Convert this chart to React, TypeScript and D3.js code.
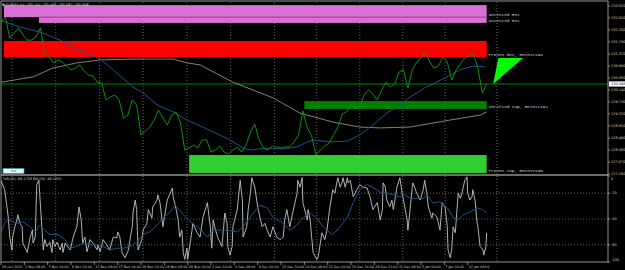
import React from "react";
import * as d3 from "d3";

const W = 625;
const H = 270;

// price axis tick labels (top to bottom)
const priceTicks = ["133.020","132.610","132.200","131.790","131.370","130.960","130.550","130.140","129.730","129.320","128.910","128.490","128.080","127.670","127.260"];
const currentPrice = 130.346;

// time axis labels (one every 16 H4 bars)
const timeLabels = ["28 Oct 2021","2 Nov 08:00","5 Nov 00:00","9 Nov 16:00","12 Nov 08:00","17 Nov 00:00","19 Nov 16:00","24 Nov 08:00","29 Nov 00:00","1 Dec 16:00","6 Dec 08:00","9 Dec 00:00","13 Dec 16:00","16 Dec 08:00","21 Dec 00:00","23 Dec 16:00","28 Dec 12:00","31 Dec 08:00","5 Jan 00:00","7 Jan 16:00","12 Jan 08:00"];
const barsPerLabel = 16;
const gridBars = [7.5, 37.5, 67.5, 97.5, 127.5, 157.5, 187.5, 216.5, 246, 275.5, 304.5, 340];

// closes sampled every 3 bars
const closeStep = 3;
const closes = [132.47,132.64,131.92,132.09,132.27,132.03,131.85,131.85,131.96,132.27,
131.37,131.27,131.07,131.17,131.10,130.96,130.83,130.89,131.00,130.79,
130.65,130.62,130.41,130.38,129.80,129.90,129.97,129.80,129.18,129.28,
129.80,129.63,128.60,128.73,128.87,129.11,129.45,129.18,128.94,129.28,
129.39,129.04,128.08,128.15,128.25,128.15,128.43,128.43,128.01,128.08,
128.22,128.01,127.95,128.08,128.19,128.01,128.25,128.70,128.97,128.43,
128.15,128.08,128.22,128.19,128.15,128.19,128.19,128.36,128.60,129.42,
128.84,128.56,127.91,128.08,128.22,128.32,128.60,128.87,129.32,129.39,
129.63,129.52,129.59,129.97,130.14,130.00,129.80,130.14,130.41,130.24,
130.35,130.76,130.83,130.21,130.83,131.10,131.24,131.44,131.10,130.89,
130.96,131.27,131.10,130.48,130.83,131.03,131.24,131.31,131.37,130.89,
130.04,130.35];

const blueMa: [number, number][] = [[0.5,132.51],[13,132.30],[26.5,132.13],[40.5,131.85],[54,131.51],[68,131.20],[77,130.83],[90.5,130.24],[97.5,130.04],[107,129.63],[118,129.39],[127.5,129.11],[136.5,128.91],[145.5,128.70],[157,128.43],[166,128.15],[171,128.08],[182.5,128.15],[193.5,128.12],[203,128.19],[210,128.36],[214,128.43],[225.5,128.36],[237.5,128.39],[246,128.60],[255,128.94],[264.5,129.35],[273.5,129.63],[280.5,129.90],[290.5,130.21],[303,130.52],[314.5,130.83],[323.5,130.96],[332,130.93]];

const greyMa: [number, number][] = [[0.5,130.41],[22,130.59],[35.5,130.89],[52,131.07],[68,131.17],[90.5,131.20],[118,131.20],[127.5,131.07],[136.5,131.00],[159,130.41],[186.5,129.87],[205,129.35],[227.5,129.04],[246,128.87],[260,128.84],[280.5,128.87],[308,129.11],[328.5,129.28],[333,129.39]];

// supply / demand zones
const zoneNames = ["Untested Res","Untested Res","Proven Res, Retests=4","Verified Sup, Retests=1","Proven Sup, Retests=0"];
const zoneHigh = [133.05, 132.64, 131.82, 129.76, 127.91];
const zoneLow = [132.64, 132.44, 131.27, 129.49, 127.29];
const zoneStart = [2, 26, 2, 208, 129];
const zoneEnd = 333;
const zoneColors = ["#da70d6","#da70d6","#ff0000","#008000","#32cd32"];

const arrowPoints: [number, number][] = [[337.5,130.35],[341,131.24],[358,131.24]];

// Williams %R indicator
const wprLevels = [0, -20, -50, -80, -100];
const wpr: [number, number][] = [[0,-5],[2.5,-16],[5,-48],[6,-71],[7.5,-86],[8,-71],[9.5,-59],[11,-51],[11.5,-45],[13,-55],[14.5,-59],[15,-78],[18,-89],[20,-71],[21.5,-63],[22,-78],[23.5,-71],[24.5,-10],[26,-5],[26.5,-20],[28,-59],[29,-86],[30,-74],[31.5,-82],[33.5,-77],[35,-89],[35.5,-74],[37,-82],[38.5,-77],[40.5,-86],[42,-78],[42.5,-89],[44,-78],[45.5,-82],[47.5,-86],[49.5,-71],[52,-59],[53.5,-36],[55,-51],[56,-78],[57.5,-71],[59,-88],[61,-74],[63,-78],[66,-86],[66.5,-80],[68,-88],[70,-74],[72.5,-80],[74.5,-86],[77,-71],[79.5,-72],[80,-65],[81.5,-71],[83,-89],[85,-95],[87,-88],[90,-59],[90.5,-43],[92,-28],[93,-39],[94,-86],[96.5,-74],[97.5,-63],[100,-55],[101,-39],[103.5,-49],[104,-36],[107,-28],[107.5,-22],[109,-31],[111,-59],[114,-28],[116,-20],[117.5,-14],[118,-24],[119.5,-34],[121.5,-51],[122.5,-71],[124,-63],[125,-89],[126,-97],[127.5,-84],[128,-97],[131,-63],[131.5,-55],[134.5,-66],[136.5,-71],[138.5,-48],[141.5,-31],[143.5,-59],[144.5,-84],[145.5,-51],[146.5,-59],[148.5,-71],[151.5,-82],[153.5,-43],[155,-55],[155.5,-82],[157,-92],[158.5,-82],[159,-59],[162,-39],[164,-5],[165.5,-28],[166,-71],[168.5,-59],[169.5,-39],[171,-20],[172,-2],[174,-13],[176,-36],[179,-59],[181,-55],[182.5,-63],[184.5,-71],[186.5,-59],[189,-71],[191.5,-74],[193.5,-71],[194.5,-51],[196,-39],[198,-59],[200,-43],[203,-20],[203.5,-5],[205,-13],[206.5,-2],[207,-31],[210,-51],[210.5,-39],[212,-51],[213,-71],[214,-89],[216.5,-97],[217.5,-94],[219,-78],[220,-66],[222,-74],[223.5,-63],[225.5,-36],[227.5,-16],[229,-20],[230.5,-5],[231,-2],[232.5,-13],[234,-7],[234.5,-2],[236,-13],[237.5,-2],[238,-8],[239.5,-5],[241.5,-24],[244,-16],[246,-10],[248,-13],[251,-14],[253,-24],[255,-39],[258,-31],[260,-51],[261.5,-39],[262,-8],[263.5,-13],[264.5,-28],[266.5,-36],[268,-28],[269,-39],[271.5,-13],[273.5,-2],[275,-20],[275.5,-24],[278.5,-51],[279,-63],[280.5,-39],[282,-13],[282.5,-8],[285,-20],[287.5,-28],[289.5,-16],[290.5,-5],[292,-20],[293,-36],[295.5,-49],[296,-43],[299,-48],[301,-63],[302.5,-31],[304.5,-36],[306,-59],[306.5,-86],[308,-95],[309,-86],[310,-59],[311.5,-66],[312.5,-43],[313.5,-20],[315,-26],[316,-20],[317,-13],[318,-5],[319.5,-1],[320,-20],[321.5,-28],[323,-24],[323.5,-16],[325,-28],[326.5,-55],[327,-59],[328.5,-82],[330.5,-86],[331,-92],[332.5,-82],[333,-66]];

const wprMa: [number, number][] = [[0,-65],[2.5,-55],[5,-50],[8,-53],[11.5,-55],[15,-53],[20,-59],[23.5,-65],[26.5,-57],[30,-63],[33.5,-68],[39,-68],[44,-74],[47.5,-84],[52,-82],[56,-78],[61,-80],[66,-80],[70,-82],[74.5,-86],[79.5,-84],[83.5,-84],[88.5,-82],[93,-77],[97.5,-68],[102,-65],[107,-57],[111,-49],[116,-42],[119.5,-34],[124,-43],[129.5,-53],[134.5,-59],[138.5,-65],[141.5,-71],[145.5,-63],[155,-63],[162,-65],[166,-59],[173,-43],[177.5,-34],[182.5,-37],[186.5,-48],[193.5,-55],[198,-63],[203,-57],[207,-49],[212,-43],[216.5,-49],[221,-59],[225.5,-66],[227.5,-68],[232.5,-59],[237.5,-48],[241.5,-31],[246,-16],[251,-10],[255,-13],[260,-19],[264.5,-20],[269,-22],[273.5,-24],[277,-22],[280.5,-26],[285,-26],[289.5,-26],[292,-22],[296,-31],[301,-30],[306,-37],[310,-48],[313.5,-51],[317,-45],[321.5,-42],[326.5,-37],[330,-39],[333,-43]];

const FONT = "DejaVu Sans, sans-serif";
const MONO = "Liberation Mono, DejaVu Sans Mono, monospace";

export default function App() {
  const axisX = 608;
  const mainTop = 2, mainBottom = 174, indTop = 176, indBottom = 262;
  const x = d3.scaleLinear().domain([0, 320]).range([1, 467.7]);
  const yMain = d3.scaleLinear().domain([127.26, 133.02]).range([174, 6]);
  const yInd = d3.scaleLinear().domain([-100, 0]).range([indBottom, indTop]);

  const mainLine = d3.line<[number, number]>().x(d => x(d[0])).y(d => yMain(d[1]));
  const indLine = d3.line<[number, number]>().x(d => x(d[0])).y(d => yInd(d[1]));
  const closePts: [number, number][] = closes.map((c, i) => [i * closeStep, c]);
  const tickVals = priceTicks.map(Number);

  return (
    <svg width={W} height={H} style={{ position: "fixed", left: 0, top: 0, display: "block" }}>
      <defs>
        <clipPath id="mainClip"><rect x={1} y={mainTop} width={axisX - 1} height={mainBottom - mainTop} /></clipPath>
        <clipPath id="indClip"><rect x={1} y={indTop} width={axisX - 1} height={indBottom - indTop} /></clipPath>
      </defs>
      <rect x={0} y={0} width={W} height={H} fill="#000" />

      {/* main panel */}
      <g clipPath="url(#mainClip)">
        {gridBars.map((b, i) => (
          <line key={i} x1={x(b)} x2={x(b)} y1={mainTop} y2={mainBottom} stroke="#7a7a7a" strokeWidth={0.8} strokeDasharray="1,2" />
        ))}
        {zoneNames.map((n, i) => (
          <rect key={i} x={x(zoneStart[i])} y={yMain(zoneHigh[i])} width={x(zoneEnd) - x(zoneStart[i])}
            height={yMain(zoneLow[i]) - yMain(zoneHigh[i])} fill={zoneColors[i]} />
        ))}
        <line x1={x(zoneStart[1])} x2={x(zoneEnd)} y1={yMain(zoneHigh[1])} y2={yMain(zoneHigh[1])} stroke="#8a3a88" strokeWidth={0.8} />
        <line x1={1} x2={axisX} y1={yMain(currentPrice)} y2={yMain(currentPrice)} stroke="#008000" strokeWidth={1} />
        <path d={mainLine(greyMa) || ""} fill="none" stroke="#8e8e8e" strokeWidth={0.9} />
        <path d={mainLine(blueMa) || ""} fill="none" stroke="#22528e" strokeWidth={1} />
        <path d={mainLine(closePts) || ""} fill="none" stroke="#0f900f" strokeWidth={1} />
        <polygon points={arrowPoints.map(p => `${x(p[0])},${yMain(p[1])}`).join(" ")} fill="#00ff00" />
        {zoneNames.map((n, i) => (
          <text key={i} x={x(zoneEnd) + 2} y={yMain(zoneLow[i]) - 2} fontFamily={MONO} fontSize={4.3}
            fill="#d8d8d8" dominantBaseline="middle">{n}</text>
        ))}
        <text x={2} y={5.5} fontFamily={FONT} fontSize={3.6} fill="#d0d0d0" dominantBaseline="middle">▼ EURJPY,H4  130.144 130.485 130.067 130.346</text>
        <rect x={3} y={168.5} width={21} height={5} fill="#e6f6f6" stroke="#2aa6a6" strokeWidth={0.7} />
        <text x={13.5} y={171.2} fontFamily={FONT} fontSize={3.2} fill="#205050" textAnchor="middle" dominantBaseline="middle">0.0</text>
      </g>

      {/* indicator panel */}
      <g clipPath="url(#indClip)">
        {gridBars.map((b, i) => (
          <line key={i} x1={x(b)} x2={x(b)} y1={indTop} y2={indBottom} stroke="#7a7a7a" strokeWidth={0.8} strokeDasharray="1,2" />
        ))}
        {wprLevels.filter(v => v < 0 && v > -100).map((v, i) => (
          <line key={i} x1={1} x2={axisX} y1={yInd(v)} y2={yInd(v)} stroke="#7a7a7a" strokeWidth={0.8} strokeDasharray="1,2" />
        ))}
        <path d={indLine(wpr) || ""} fill="none" stroke="#c4c4c4" strokeWidth={0.9} />
        <path d={indLine(wprMa) || ""} fill="none" stroke="#22528e" strokeWidth={1} />
        <text x={3} y={179.5} fontFamily={FONT} fontSize={3.4} fill="#d0d0d0" dominantBaseline="middle">%R(20) -66.1739  MA(20) -40.2553</text>
      </g>

      {/* frame */}
      <rect x={1} y={1} width={axisX - 1} height={indBottom - 1} fill="none" stroke="#b8b8b8" strokeWidth={0.8} />
      <line x1={1} x2={axisX} y1={175} y2={175} stroke="#d8d8d8" strokeWidth={1} />

      {/* price axis */}
      {tickVals.map((v, i) => (
        <g key={i}>
          <line x1={axisX} x2={axisX + 2} y1={yMain(v)} y2={yMain(v)} stroke="#b8b8b8" strokeWidth={0.7} />
          <text x={axisX + 3} y={yMain(v)} fontFamily={FONT} fontSize={3.5} fill="#d0d0d0" dominantBaseline="middle">{priceTicks[i]}</text>
        </g>
      ))}
      <rect x={axisX + 1} y={yMain(currentPrice) - 2.6} width={W - axisX - 1} height={5.2} fill="#ffffff" />
      <text x={axisX + 3} y={yMain(currentPrice) + 0.1} fontFamily={FONT} fontSize={3.5} fill="#000" dominantBaseline="middle">{currentPrice.toFixed(3)}</text>

      {/* indicator axis */}
      {wprLevels.map((v, i) => (
        <g key={i}>
          <line x1={axisX} x2={axisX + 2} y1={yInd(v)} y2={yInd(v)} stroke="#b8b8b8" strokeWidth={0.7} />
          <text x={axisX + 3} y={Math.min(Math.max(yInd(v), 179), 260)} fontFamily={FONT} fontSize={3.5} fill="#d0d0d0" dominantBaseline="middle">{v}</text>
        </g>
      ))}

      {/* time axis */}
      {timeLabels.map((t, i) => (
        <g key={i}>
          <line x1={x(i * barsPerLabel)} x2={x(i * barsPerLabel)} y1={indBottom} y2={indBottom + 3} stroke="#b8b8b8" strokeWidth={0.7} />
          <text x={x(i * barsPerLabel) + 1} y={267} fontFamily={FONT} fontSize={3.3} fill="#d0d0d0" dominantBaseline="middle">{t}</text>
        </g>
      ))}
    </svg>
  );
}
